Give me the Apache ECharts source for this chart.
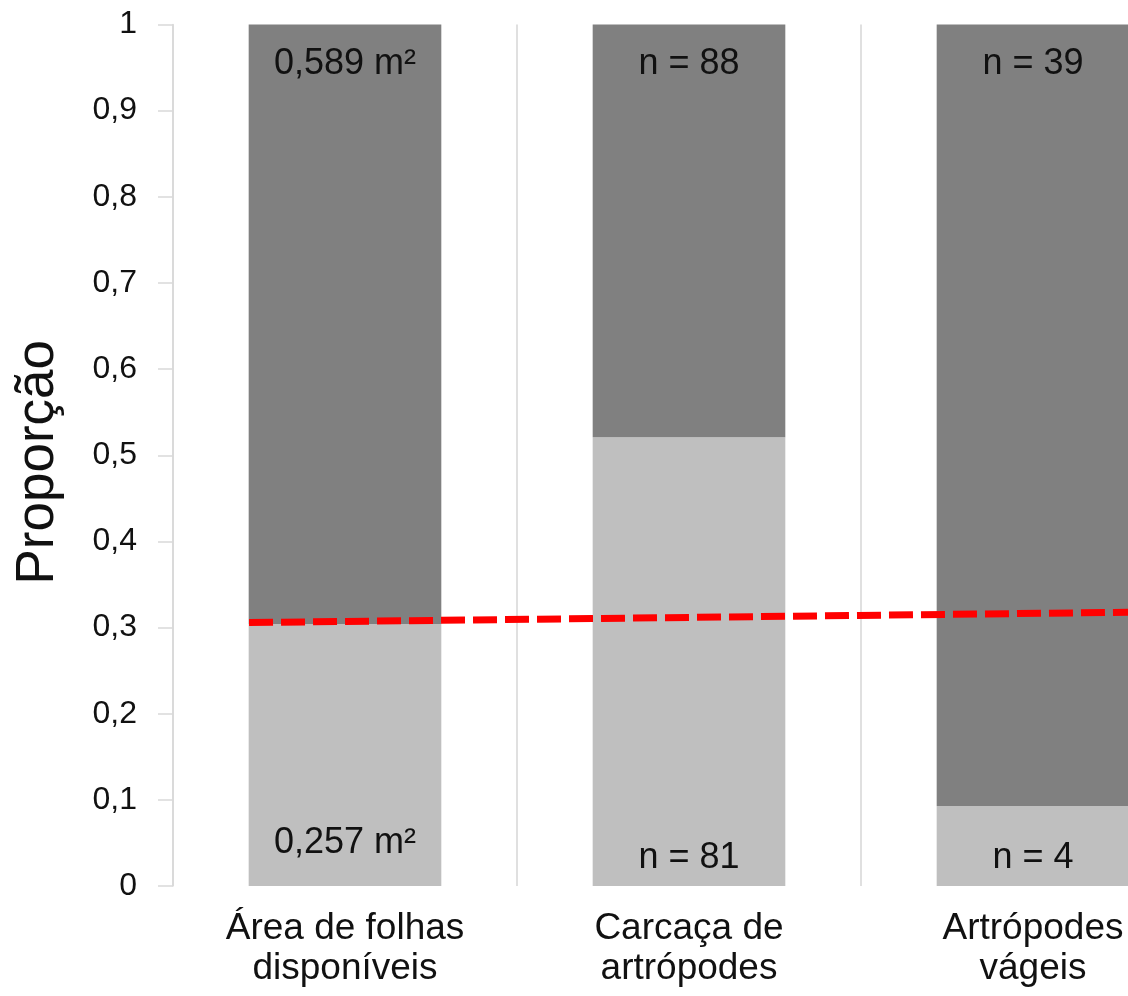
<!DOCTYPE html>
<html>
<head>
<meta charset="utf-8">
<script src="https://cdn.jsdelivr.net/npm/echarts@6/dist/echarts.min.js"></script>
<style>
  html, body { margin: 0; padding: 0; background: #fff; }
  #chart { width: 1128px; height: 996px; }
</style>
</head>
<body>
<div id="chart"></div>
<script>
// Categories and stacked proportions
var categories = ['Área de folhas\ndisponíveis', 'Carcaça de\nartrópodes', 'Artrópodes\nvágeis'];
var lowerShare = [0.304, 0.521, 0.093];
var upperShare = [0.696, 0.479, 0.907];
var lowerLabels = ['0,257 m²', 'n = 81', 'n = 4'];
var upperLabels = ['0,589 m²', 'n = 88', 'n = 39'];
var yTicks = [0, 0.1, 0.2, 0.3, 0.4, 0.5, 0.6, 0.7, 0.8, 0.9, 1];
// Reference line endpoints: [position along the category span, proportion]
var trendX = [0.221, 3.0];
var trendY = [0.3058, 0.3188];

var font = '"Liberation Sans", Arial, sans-serif';

var chart = echarts.init(document.getElementById('chart'), null, { renderer: 'canvas' });

chart.setOption({
  animation: false,
  backgroundColor: '#ffffff',
  // the plot runs past the right edge of the page, so the third bar is cut off
  grid: {
    left: 173, top: 24.5, width: 1032, bottom: 110,
    containLabel: false,
    outerBoundsMode: 'none'
  },
  xAxis: [
    {
      type: 'category',
      data: categories,
      axisLine: { show: false },
      axisTick: { show: false },
      splitLine: { show: true, lineStyle: { color: '#e0e0e0', width: 2 } },
      axisLabel: {
        interval: 0,
        margin: 23,
        fontFamily: font,
        fontSize: 37,
        lineHeight: 40,
        color: '#111',
        hideOverlap: false
      }
    },
    {
      type: 'value',
      min: 0,
      max: 3,
      show: false
    }
  ],
  yAxis: {
    type: 'value',
    min: yTicks[0],
    max: yTicks[yTicks.length - 1],
    interval: 0.1,
    name: 'Proporção',
    nameLocation: 'middle',
    nameGap: 108,
    nameTextStyle: { fontFamily: font, fontSize: 53, color: '#111', padding: [0, 14, 0, 0] },
    axisLine: { show: true, lineStyle: { color: '#d9d9d9', width: 1.5 } },
    axisTick: { show: true, length: 15, lineStyle: { color: '#d9d9d9', width: 1.5 } },
    splitLine: { show: false },
    axisLabel: {
      margin: 36,
      fontFamily: font,
      fontSize: 32,
      color: '#111',
      formatter: function (v) { return String(+v.toFixed(1)).replace('.', ','); }
    }
  },
  series: [
    {
      type: 'bar',
      stack: 'p',
      barWidth: '56%',
      itemStyle: { color: '#bfbfbf' },
      data: lowerShare.map(function (v, i) {
        return {
          value: v,
          label: {
            show: true,
            position: 'insideBottom',
            distance: i === 0 ? 23 : 8,
            formatter: lowerLabels[i]
          }
        };
      }),
      label: { fontFamily: font, fontSize: 36, lineHeight: 40, color: '#111' }
    },
    {
      type: 'bar',
      stack: 'p',
      barWidth: '56%',
      itemStyle: { color: '#808080' },
      data: upperShare.map(function (v, i) {
        return {
          value: v,
          label: {
            show: true,
            position: 'insideTop',
            distance: 20,
            formatter: upperLabels[i]
          }
        };
      }),
      label: { fontFamily: font, fontSize: 36, lineHeight: 40, color: '#111' }
    },
    {
      type: 'line',
      xAxisIndex: 1,
      data: trendX.map(function (x, i) { return [x, trendY[i]]; }),
      symbol: 'none',
      lineStyle: { color: '#ff0000', width: 7, type: [24, 8] },
      z: 5
    }
  ]
});
</script>
</body>
</html>
